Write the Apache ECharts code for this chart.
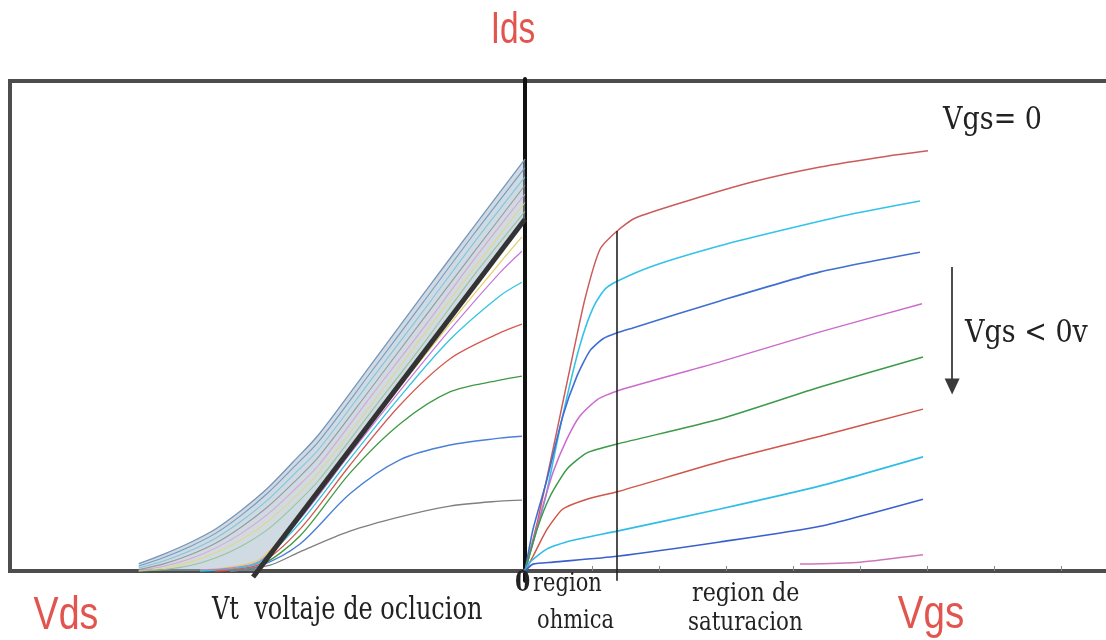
<!DOCTYPE html>
<html>
<head>
<meta charset="utf-8">
<script src="https://cdn.jsdelivr.net/npm/echarts@6/dist/echarts.min.js"></script>
<style>
  html, body { margin: 0; padding: 0; background: #ffffff; }
  #chart { width: 1106px; height: 640px; }
</style>
</head>
<body>
<div id="chart"></div>
<script>
// ---- Transfer characteristic (left panel), x = gate voltage, y = drain current ----
const vgsBandX   = [-7.5, -7, -6.5, -6, -5.5, -5, -4.5, -4, -3, -2, -1, 0];
const bandUpper  = [0.15, 0.35, 0.58, 0.86, 1.24, 1.68, 2.22, 2.78, 4.18, 5.59, 6.99, 8.37];
const bandTraceA = [0.10, 0.28, 0.50, 0.77, 1.14, 1.58, 2.10, 2.64, 4.03, 5.43, 6.84, 8.20];
const bandTraceB = [0.06, 0.21, 0.41, 0.67, 1.02, 1.44, 1.95, 2.48, 3.87, 5.25, 6.66, 8.01];
const bandTraceC = [0.03, 0.15, 0.33, 0.57, 0.90, 1.30, 1.79, 2.33, 3.70, 5.09, 6.47, 7.84];
const bandTraceD = [0.01, 0.10, 0.25, 0.47, 0.77, 1.15, 1.63, 2.16, 3.54, 4.90, 6.32, 7.66];
const bandTraceE = [0.00, 0.06, 0.18, 0.37, 0.64, 1.00, 1.47, 2.01, 3.36, 4.76, 6.14, 7.49];
const bandTraceF = [0.00, 0.03, 0.11, 0.27, 0.51, 0.84, 1.31, 1.85, 3.22, 4.58, 6.00, 7.31];

// threshold line (pinch-off extrapolation)
const thresholdLine = [[-5.28, -0.12], [0, 7.15]];

// curves that bend away below the threshold line: [vgs, ids]
const transferYellow  = [[-6.31,0.02],[-5.73,0.08],[-5.15,0.24],[-4.37,1.12],[-3.40,2.44],[-2.43,3.74],[-1.46,5.02],[-0.49,6.26],[-0.06,6.79]];
const transferMagenta = [[-6.31,0.02],[-5.73,0.06],[-5.15,0.20],[-4.37,1.06],[-3.40,2.38],[-2.43,3.66],[-1.46,4.90],[-0.49,6.06],[-0.06,6.50]];
const transferCyan    = [[-6.31,0.00],[-5.73,0.04],[-5.15,0.18],[-4.37,0.98],[-3.40,2.28],[-2.43,3.54],[-1.46,4.70],[-0.49,5.59],[-0.06,5.87]];
const transferRed     = [[-6.02,0.00],[-5.73,0.02],[-5.15,0.14],[-4.37,0.85],[-3.40,2.15],[-2.43,3.37],[-1.46,4.31],[-0.49,4.84],[-0.06,5.02]];
const transferGreen   = [[-5.73,0.00],[-5.15,0.10],[-4.37,0.71],[-3.40,1.99],[-2.43,2.99],[-1.46,3.64],[-0.49,3.88],[-0.06,3.96]];
const transferBlue    = [[-5.70,0.00],[-5.15,0.10],[-4.37,0.55],[-3.40,1.57],[-2.43,2.26],[-1.46,2.56],[-0.49,2.70],[-0.06,2.74]];
const transferGray    = [[-5.73,0.00],[-4.95,0.12],[-4.37,0.39],[-3.40,0.81],[-2.43,1.10],[-1.46,1.32],[-0.49,1.42],[-0.06,1.44]];

// ---- Output characteristic (right panel), x = drain voltage, y = drain current ----
const outVgs0 = [[0,0],[0.39,1.06],[0.90,2.68],[1.34,4.11],[1.79,5.53],[2.24,6.54],[2.75,6.91],[3.28,7.17],[4.84,7.52],[6.81,7.91],[8.81,8.21],[10.81,8.43],[12.03,8.54]];
const outCyan1 = [[0,0],[0.60,1.46],[1.04,2.89],[1.49,4.21],[1.79,4.92],[2.09,5.43],[2.39,5.73],[2.75,5.89],[3.82,6.20],[5.82,6.61],[7.82,6.95],[9.79,7.26],[11.79,7.52]];
const outBlue1 = [[0,0],[0.24,0.85],[0.66,1.87],[1.13,3.15],[1.55,3.96],[1.94,4.48],[2.33,4.72],[2.75,4.84],[3.22,4.94],[5.82,5.49],[8.81,6.08],[11.79,6.48]];
const outMagenta1 = [[0,0],[0.45,1.12],[0.84,2.01],[1.25,2.68],[1.64,3.15],[2.15,3.48],[2.75,3.66],[5.82,4.25],[8.81,4.86],[11.85,5.43]];
const outGreen = [[0,0],[0.36,0.85],[0.75,1.52],[1.25,2.07],[1.85,2.40],[2.75,2.58],[5.82,3.09],[8.81,3.74],[11.88,4.35]];
const outRed2 = [[0,0],[0.24,0.30],[0.66,0.85],[1.13,1.26],[1.85,1.46],[2.75,1.61],[5.82,2.22],[8.81,2.74],[11.88,3.29]];
const outCyan2 = [[0,0],[0.15,0.18],[0.66,0.45],[1.34,0.61],[2.75,0.81],[5.82,1.26],[8.81,1.73],[11.88,2.32]];
const outBlue2 = [[0,0],[0.24,0.14],[0.84,0.18],[2.75,0.30],[5.82,0.59],[8.81,0.91],[11.88,1.46]];
const outMagenta2 = [[8.21,0.14],[10.0,0.18],[11.88,0.33]];

// ohmic / saturation boundary and the "Vgs decreasing" arrow
const kneeLine = [[2.75, -0.2], [2.75, 6.91]];
const vgsArrow = [[12.75, 6.18], [12.75, 3.75]];

// ---- text ----
const titleY = 'Ids';
const titleLeftX = 'Vds';
const titleRightX = 'Vgs';
const vtLabel = 'Vt  voltaje de oclucion';
const zeroLabel = '0';
const ohmicLabel = ['region', 'ohmica'];
const satLabel = ['region de', 'saturacion'];
const vgsZeroLabel = 'Vgs= 0';
const vgsNegLabel = 'Vgs < 0v';

const RED_TEXT = '#e2554f';
const SANS = "'Liberation Sans',Arial,sans-serif";
const SERIF = "'DejaVu Serif',serif";

function zipXY(xs, ys) { return xs.map((x, i) => [x, ys[i]]); }

function curve(name, data, color, width, gridIdx, extra) {
  return Object.assign({
    name, type: 'line', data,
    xAxisIndex: gridIdx, yAxisIndex: gridIdx,
    showSymbol: false, smooth: gridIdx === 0 ? 0.3 : 0.2, silent: true,
    lineStyle: { color, width }
  }, extra || {});
}

// text anchored at its baseline; scaleX/scaleY stretch glyphs about that anchor
function label(text, x, baseline, size, family, fill, opts) {
  opts = opts || {};
  return {
    type: 'text', x, y: baseline,
    scaleX: opts.sx || 1, scaleY: opts.sy || 1,
    z: 10,
    style: {
      text, x: 0, y: -0.35 * size,
      font: (opts.weight || 'normal') + ' ' + size + 'px ' + family,
      fill, align: opts.align || 'left', verticalAlign: 'middle'
    }
  };
}

const bandPolygon = {
  type: 'custom',
  xAxisIndex: 0, yAxisIndex: 0,
  silent: true,
  data: [0],
  renderItem: function (params, api) {
    const pts = zipXY(vgsBandX, bandUpper).map(p => api.coord(p));
    pts.push(api.coord([0, thresholdLine[1][1]]));
    pts.push(api.coord([-5.2, 0]));
    pts.push(api.coord([vgsBandX[0], 0]));
    return {
      type: 'polygon',
      shape: { points: pts, smooth: 0 },
      style: { fill: 'rgba(160,182,199,0.5)', stroke: null }
    };
  }
};

const bandColors = ['#6f93bb', '#79c4db', '#8e9496', '#d7a2cc', '#e4d67e', '#92c292'];
const bandTraces = [bandTraceA, bandTraceB, bandTraceC, bandTraceD, bandTraceE, bandTraceF];

const series = [bandPolygon];
bandTraces.forEach((t, i) => series.push(curve('band' + i, zipXY(vgsBandX, t), bandColors[i], 1.1, 0, { lineStyle: { color: bandColors[i], width: 1.1, opacity: 0.9 } })));
series.push(curve('bandTop', zipXY(vgsBandX, bandUpper), '#7796ba', 1.3, 0));
series.push(curve('tYellow', transferYellow, '#e2cf6a', 1.2, 0));
series.push(curve('tMagenta', transferMagenta, '#c477db', 1.2, 0));
series.push(curve('tCyan', transferCyan, '#33c3e3', 1.3, 0));
series.push(curve('tRed', transferRed, '#d45a52', 1.3, 0));
series.push(curve('tGreen', transferGreen, '#3f9a45', 1.3, 0));
series.push(curve('tBlue', transferBlue, '#4a80d6', 1.4, 0));
series.push(curve('tGray', transferGray, '#7f7f7f', 1.3, 0));
series.push(curve('threshold', thresholdLine, '#333333', 5, 0, { smooth: false, clip: false }));

series.push(curve('vgs0', outVgs0, '#cc5b5b', 1.5, 1, {
  markLine: {
    silent: true, symbol: ['none', 'none'], animation: false,
    lineStyle: { color: '#222222', width: 1.6, type: 'solid' },
    label: { show: false },
    data: [[{ coord: kneeLine[0] }, { coord: kneeLine[1] }]]
  }
}));
series.push(curve('cyan1', outCyan1, '#34c3e8', 1.6, 1));
series.push(curve('blue1', outBlue1, '#3f6fd0', 1.6, 1));
series.push(curve('magenta1', outMagenta1, '#cc6bcc', 1.5, 1));
series.push(curve('green', outGreen, '#3c9a4a', 1.5, 1));
series.push(curve('red2', outRed2, '#d0564a', 1.5, 1));
series.push(curve('cyan2', outCyan2, '#30bde6', 1.6, 1));
series.push(curve('blue2', outBlue2, '#3a60cf', 1.6, 1, {
  markLine: {
    silent: true, animation: false,
    symbol: ['none', 'triangle'], symbolSize: [15, 16],
    lineStyle: { color: '#3a3a3a', width: 1.8, type: 'solid' },
    label: { show: false },
    data: [[{ coord: vgsArrow[0] }, { coord: vgsArrow[1] }]]
  }
}));
series.push(curve('magenta2', outMagenta2, '#cc77bb', 1.5, 1));

const option = {
  animation: false,
  backgroundColor: '#ffffff',
  grid: [
    { left: 10, width: 515, top: 79, bottom: 59.16 },
    { left: 525, width: 536, top: 79, bottom: 59.16 }
  ],
  xAxis: [
    { type: 'value', gridIndex: 0, min: -10, max: 0,
      axisLine: { show: true, onZero: true, lineStyle: { color: '#4d4d4d', width: 4 } },
      axisTick: { show: false }, axisLabel: { show: false }, splitLine: { show: false } },
    { type: 'value', gridIndex: 1, min: 0, max: 16, interval: 2,
      axisLine: { show: true, onZero: true, lineStyle: { color: '#4d4d4d', width: 4 } },
      axisTick: { show: true, inside: true, length: 5, lineStyle: { color: '#8a8a8a', width: 1 } },
      axisLabel: { show: false }, splitLine: { show: false } }
  ],
  yAxis: [
    { type: 'value', gridIndex: 0, min: -0.2, max: 10, show: false },
    { type: 'value', gridIndex: 1, min: -0.2, max: 10,
      axisLine: { show: true, onZero: true, lineStyle: { color: '#111111', width: 4 } },
      axisTick: { show: false }, axisLabel: { show: false }, splitLine: { show: false } }
  ],
  graphic: [
    { type: 'rect', z: 0, silent: true,
      shape: { x: 10, y: 81, width: 1120, height: 490 },
      style: { fill: null, stroke: '#4d4d4d', lineWidth: 4 } },
    label(titleY, 513, 46, 44, SANS, RED_TEXT, { align: 'center', sx: 0.76 }),
    label(titleLeftX, 66, 632, 47, SANS, RED_TEXT, { align: 'center', sx: 0.8 }),
    label(titleRightX, 931, 631, 47, SANS, RED_TEXT, { align: 'center', sx: 0.82 }),
    label(vtLabel, 212, 622, 24, SERIF, '#222222', { sy: 1.3 }),
    label(zeroLabel, 515, 593, 22, SERIF, '#222222', { sy: 1.25, weight: 'bold' }),
    label(ohmicLabel[0], 533, 593, 21, SERIF, '#222222', { sy: 1.2 }),
    label(ohmicLabel[1], 537, 630, 21, SERIF, '#222222', { sy: 1.2 }),
    label(satLabel[0], 692, 603, 21, SERIF, '#222222', { sy: 1.2, sx: 1.06 }),
    label(satLabel[1], 688, 632, 21, SERIF, '#222222', { sy: 1.2, sx: 1.02 }),
    label(vgsZeroLabel, 943, 132, 27, SERIF, '#222222', { sy: 1.2 }),
    label(vgsNegLabel, 965, 345, 27, SERIF, '#222222', { sy: 1.15 })
  ],
  series
};

const chart = echarts.init(document.getElementById('chart'), null, { renderer: 'canvas' });
chart.setOption(option);
</script>
</body>
</html>
